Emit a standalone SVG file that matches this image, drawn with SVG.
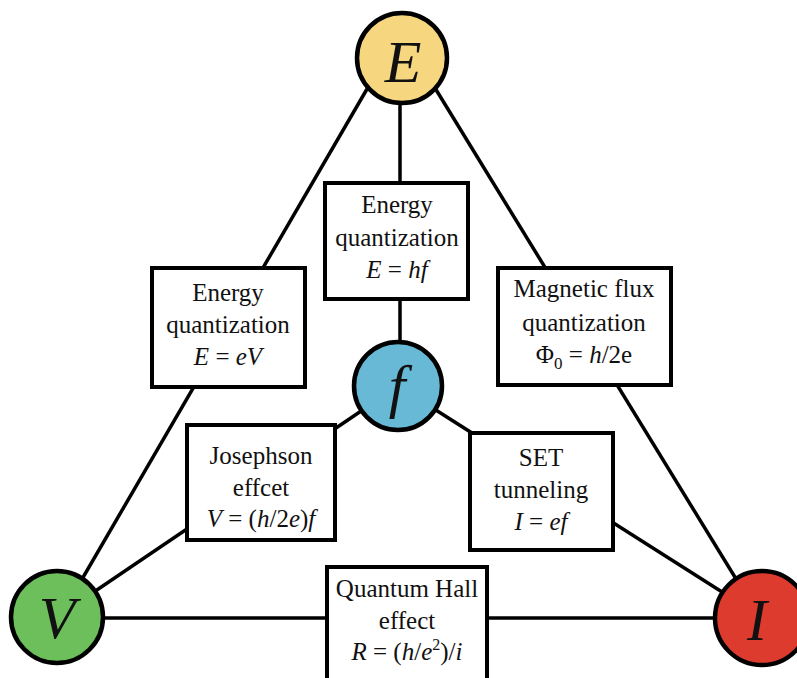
<svg xmlns="http://www.w3.org/2000/svg" width="797" height="678" viewBox="0 0 797 678">
<style>
.ln{stroke:#000;stroke-width:3.5;fill:none}
.box{fill:#fff;stroke:#000;stroke-width:4}
.nd{stroke:#000;stroke-width:4.5}
.t{font-family:"Liberation Serif","Times New Roman",serif;font-size:25px;fill:#111;text-anchor:middle}
.big{font-family:"Liberation Serif","Times New Roman",serif;font-style:italic;font-size:60px;fill:#111;text-anchor:middle}
.i{font-style:italic}
</style>
<rect width="797" height="678" fill="#fff"/>
<g id="connectors">
<line class="ln" x1="367" y1="89" x2="60" y2="617"/>
<line class="ln" x1="435" y1="88" x2="760" y2="618"/>
<line class="ln" x1="57" y1="618" x2="763" y2="618"/>
<line class="ln" x1="400" y1="100" x2="400" y2="345"/>
<line class="ln" x1="398" y1="386" x2="57" y2="617"/>
<line class="ln" x1="398" y1="386" x2="763" y2="618"/>
</g>
<g id="box-eV">
<rect class="box" x="152" y="268" width="153" height="119"/>
<text class="t" x="228" y="301">Energy</text>
<text class="t" x="228" y="333">quantization</text>
<text class="t" x="228" y="365"><tspan class="i">E</tspan> = <tspan class="i">eV</tspan></text>
</g>
<g id="box-hf">
<rect class="box" x="325" y="183" width="143" height="116"/>
<text class="t" x="397" y="213">Energy</text>
<text class="t" x="397" y="246">quantization</text>
<text class="t" x="397" y="278"><tspan class="i">E</tspan> = <tspan class="i">hf</tspan></text>
</g>
<g id="box-flux">
<rect class="box" x="498" y="268" width="173" height="117"/>
<text class="t" x="584" y="297">Magnetic flux</text>
<text class="t" x="584" y="331">quantization</text>
<text class="t" x="584" y="363">Φ<tspan font-size="17" dy="6">0</tspan><tspan dy="-6"> = </tspan><tspan class="i">h</tspan>/2e</text>
</g>
<g id="box-josephson">
<rect class="box" x="187" y="425" width="148" height="115"/>
<text class="t" x="261" y="464">Josephson</text>
<text class="t" x="261" y="496">effcet</text>
<text class="t" x="261" y="527"><tspan class="i">V</tspan> = (<tspan class="i">h</tspan>/2<tspan class="i">e</tspan>)<tspan class="i">f</tspan></text>
</g>
<g id="box-set">
<rect class="box" x="470" y="433" width="143" height="117"/>
<text class="t" x="541" y="466">SET</text>
<text class="t" x="541" y="498">tunneling</text>
<text class="t" x="541" y="530"><tspan class="i">I</tspan> = <tspan class="i">ef</tspan></text>
</g>
<g id="box-hall">
<rect class="box" x="327" y="567" width="160" height="120"/>
<text class="t" x="407" y="597">Quantum Hall</text>
<text class="t" x="407" y="629">effect</text>
<text class="t" x="407" y="660"><tspan class="i">R</tspan> = (<tspan class="i">h</tspan>/<tspan class="i">e</tspan><tspan font-size="16" dy="-10">2</tspan><tspan dy="10">)/</tspan><tspan class="i">i</tspan></text>
</g>
<g id="node-E">
<circle class="nd" cx="402" cy="58" r="45" fill="#F6D77F"/>
<text class="big" x="403" y="82">E</text>
</g>
<g id="node-f">
<circle class="nd" cx="398" cy="386" r="44" fill="#67B9D6"/>
<text class="big" x="397" y="406" font-size="62">f</text>
</g>
<g id="node-V">
<circle class="nd" cx="57" cy="617" r="46" fill="#6DBF5C"/>
<text class="big" x="57" y="638">V</text>
</g>
<g id="node-I">
<circle class="nd" cx="762" cy="618" r="47" fill="#DE3B2F"/>
<text class="big" x="757" y="640">I</text>
</g>
</svg>
